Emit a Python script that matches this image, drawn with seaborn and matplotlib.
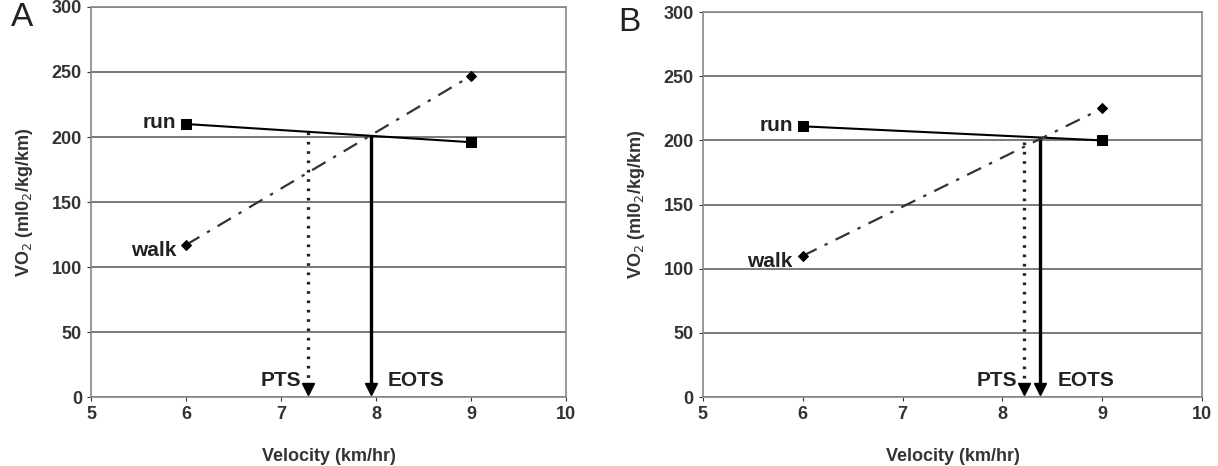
import numpy as np
import matplotlib
matplotlib.use("Agg")
import matplotlib.pyplot as plt
import seaborn as sns
import pandas as pd

sns.set_style("white")
plt.rcParams['font.family'] = ['Liberation Sans', 'DejaVu Sans']

# data
velocity = [6, 9]
run_a = [210, 196]
walk_a = [117, 247]
pts_a, pts_top_a = 7.28, 204
eots_a, eots_top_a = 7.95, 200

run_b = [211, 200]
walk_b = [110, 225]
pts_b, pts_top_b = 8.22, 199
eots_b, eots_top_b = 8.38, 202

yticks = [0, 50, 100, 150, 200, 250, 300]
xticks = [5, 6, 7, 8, 9, 10]

fig = plt.figure(figsize=(12.18, 4.66), dpi=100)
ax1 = fig.add_axes([0.0747, 0.148, 0.390, 0.837])
ax2 = fig.add_axes([0.577, 0.148, 0.410, 0.826])


def draw(ax, run, walk, pts, pts_top, eots, eots_top):
    df = pd.DataFrame({'v': velocity, 'run': run, 'walk': walk})
    sns.lineplot(data=df, x='v', y='run', ax=ax, color='black', lw=1.5,
                 marker='s', markersize=7, markeredgecolor='black', zorder=4)
    sns.lineplot(data=df, x='v', y='walk', ax=ax, color='#333333', lw=1.6,
                 linestyle=(0, (7, 4, 1.5, 4)), marker='D', markersize=5.5,
                 markerfacecolor='black', markeredgecolor='black', zorder=4)
    # PTS dotted arrow, EOTS solid arrow
    ax.plot([pts, pts], [pts_top, 6], color='#222222', lw=2.4, linestyle=(0, (0.8, 2.0)), zorder=3)
    ax.plot([pts], [6], marker='v', color='black', markersize=8, zorder=5)
    ax.plot([eots, eots], [eots_top, 6], color='black', lw=2.4, zorder=3)
    ax.plot([eots], [6], marker='v', color='black', markersize=8, zorder=5)

    ax.text(velocity[0] - 0.1, run[0] + 1, 'run', ha='right', va='center',
            fontsize=15, fontweight='bold', color='#222222')
    ax.text(velocity[0] - 0.1, walk[0] - 4, 'walk', ha='right', va='center',
            fontsize=15, fontweight='bold', color='#222222')
    ax.text(pts - 0.07, 13, 'PTS', ha='right', va='center',
            fontsize=15, fontweight='bold', color='#222222')
    ax.text(eots + 0.17, 13, 'EOTS', ha='left', va='center',
            fontsize=15, fontweight='bold', color='#222222')

    ax.set_xlim(5, 10)
    ax.set_ylim(0, 300)
    ax.set_xticks(xticks)
    ax.set_yticks(yticks)
    ax.yaxis.grid(True, color='#707070', lw=1.3)
    ax.set_axisbelow(True)
    for s in ax.spines.values():
        s.set_color('#888888')
        s.set_linewidth(1.2)
    ax.tick_params(axis='both', labelsize=13, colors='#333333', length=3, width=0.8,
                   direction='out', bottom=True, left=True)
    for lab in ax.get_xticklabels() + ax.get_yticklabels():
        lab.set_fontweight('bold')
    ax.set_xlabel('Velocity (km/hr)', fontsize=13, fontweight='bold', color='#333333', labelpad=18)
    ax.set_ylabel('VO$_2$ (ml0$_2$/kg/km)', fontsize=13, fontweight='bold', color='#333333', labelpad=12)


draw(ax1, run_a, walk_a, pts_a, pts_top_a, eots_a, eots_top_a)
draw(ax2, run_b, walk_b, pts_b, pts_top_b, eots_b, eots_top_b)

fig.text(0.009, 0.995, 'A', fontsize=24, color='#222222', ha='left', va='top')
fig.text(0.508, 0.985, 'B', fontsize=24, color='#222222', ha='left', va='top')

fig.savefig('out.png', dpi=100)
